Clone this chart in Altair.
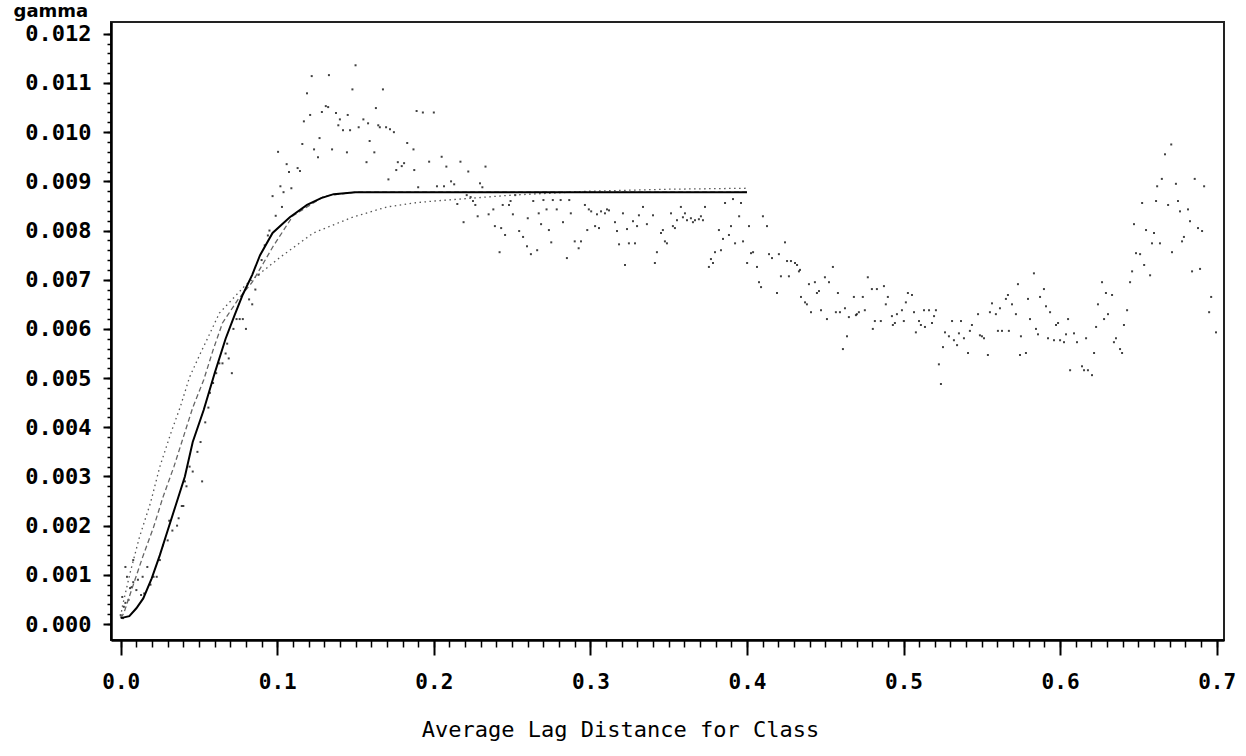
import altair as alt
import pandas as pd

near_origin = [
    (0.000, 0.00018), (0.001, 0.00055), (0.0015, 0.00012), (0.002, 0.00035), (0.003, 0.00116),
    (0.003, 0.00043), (0.004, 0.00096), (0.005, 0.00049), (0.006, 0.00073), (0.007, 0.00075),
    (0.008, 0.0013), (0.008, 0.00085), (0.010, 0.00069), (0.011, 0.0009), (0.013, 0.00059),
    (0.014, 0.00096), (0.015, 0.00062), (0.017, 0.00116), (0.019, 0.0008), (0.021, 0.00096),
    (0.023, 0.00096), (0.025, 0.0013), (0.027, 0.0016), (0.030, 0.0017), (0.031, 0.0021),
    (0.033, 0.0019), (0.036, 0.0020), (0.037, 0.00215), (0.039, 0.0024), (0.040, 0.0024),
    (0.041, 0.0029), (0.042, 0.0028), (0.044, 0.0032), (0.046, 0.0031), (0.049, 0.0035),
    (0.051, 0.0037), (0.052, 0.0029), (0.054, 0.0041), (0.056, 0.0044), (0.057, 0.0047),
    (0.059, 0.0049), (0.061, 0.0051), (0.063, 0.0053), (0.065, 0.0053), (0.067, 0.0055),
    (0.068, 0.0057), (0.069, 0.0054), (0.071, 0.0051), (0.072, 0.0060), (0.074, 0.0062),
    (0.076, 0.0062), (0.078, 0.0062), (0.080, 0.0060), (0.082, 0.0066), (0.084, 0.0065),
    (0.086, 0.0068), (0.088, 0.0071), (0.090, 0.0074), (0.092, 0.0077), (0.094, 0.0079),
    (0.095, 0.0080), (0.097, 0.0087), (0.099, 0.0083),
]
hump = [
    (0.1005, 0.0096), (0.102, 0.0089), (0.103, 0.00848), (0.104, 0.00878), (0.106, 0.00935),
    (0.1075, 0.00919), (0.109, 0.00886), (0.113, 0.00927), (0.1145, 0.00921), (0.116, 0.00976),
    (0.117, 0.01022), (0.119, 0.01079), (0.121, 0.01035), (0.122, 0.01114), (0.1235, 0.00965),
    (0.126, 0.00949), (0.127, 0.00988), (0.1285, 0.01041), (0.131, 0.01053), (0.1325, 0.01051),
    (0.133, 0.01116), (0.135, 0.00965), (0.1375, 0.01039), (0.139, 0.01014), (0.140, 0.01026),
    (0.142, 0.01004), (0.1445, 0.00959), (0.145, 0.01035), (0.1465, 0.01004), (0.148, 0.01087),
    (0.150, 0.01136), (0.152, 0.0101), (0.155, 0.01026), (0.157, 0.00939), (0.158, 0.01018),
    (0.159, 0.00982), (0.162, 0.00959), (0.163, 0.01049), (0.1645, 0.01014), (0.1655, 0.0101),
    (0.1675, 0.01087), (0.1695, 0.0101), (0.171, 0.00904), (0.172, 0.01006), (0.1745, 0.0100),
    (0.176, 0.00923), (0.177, 0.00939), (0.1795, 0.00931), (0.181, 0.00937), (0.183, 0.00978),
    (0.187, 0.00965), (0.1875, 0.00923), (0.189, 0.01043), (0.190, 0.00888), (0.193, 0.0104),
    (0.197, 0.0094), (0.200, 0.0104), (0.202, 0.0089), (0.205, 0.0095), (0.2065, 0.0089),
    (0.208, 0.0093), (0.211, 0.0090), (0.213, 0.00894), (0.215, 0.00854), (0.217, 0.0094),
    (0.219, 0.00817), (0.221, 0.00872), (0.222, 0.0092), (0.2235, 0.00868), (0.225, 0.0086),
    (0.2265, 0.00852), (0.228, 0.00829), (0.2295, 0.00896), (0.231, 0.00888), (0.233, 0.0093),
]
plateau = [
    (0.235, 0.00833), (0.238, 0.00843), (0.239, 0.00809), (0.242, 0.00756), (0.243, 0.00805),
    (0.244, 0.00852), (0.2455, 0.00791), (0.248, 0.00852), (0.249, 0.0086), (0.2505, 0.00833),
    (0.252, 0.00872), (0.2545, 0.00799), (0.257, 0.00787), (0.2595, 0.00768), (0.260, 0.00825),
    (0.262, 0.00752), (0.2635, 0.0086), (0.266, 0.0076), (0.267, 0.00835), (0.2685, 0.00813),
    (0.270, 0.00862), (0.272, 0.00843), (0.2735, 0.00801), (0.275, 0.00776), (0.276, 0.00862),
    (0.2785, 0.00843), (0.281, 0.00862), (0.2825, 0.00817), (0.285, 0.00744), (0.2865, 0.00862),
    (0.2875, 0.00835), (0.290, 0.00778), (0.2925, 0.00764), (0.294, 0.00778), (0.2965, 0.00852),
    (0.298, 0.00801), (0.299, 0.00843), (0.3005, 0.00839), (0.303, 0.00809), (0.3042, 0.00833),
    (0.3055, 0.00805), (0.3068, 0.00839), (0.3093, 0.00835), (0.3106, 0.00843), (0.3119, 0.00841),
    (0.3157, 0.00817), (0.317, 0.00799), (0.3183, 0.00772), (0.3208, 0.00835), (0.3221, 0.0073),
    (0.3234, 0.00803), (0.3246, 0.00774), (0.3272, 0.00819), (0.3285, 0.00774), (0.3298, 0.00809),
    (0.331, 0.00831), (0.3336, 0.00848), (0.3361, 0.00813), (0.340, 0.00831), (0.3412, 0.00734),
    (0.3425, 0.00756), (0.3451, 0.00795), (0.3463, 0.00801), (0.3476, 0.00778), (0.3489, 0.00774),
    (0.3515, 0.00835), (0.3527, 0.00809), (0.354, 0.00805), (0.3553, 0.00821), (0.3578, 0.00848),
    (0.3591, 0.00827), (0.3604, 0.00835), (0.3617, 0.00821), (0.3642, 0.00825), (0.3655, 0.00817),
    (0.3668, 0.00821), (0.3693, 0.00823), (0.3706, 0.00829), (0.3719, 0.00821), (0.3732, 0.00848),
    (0.3757, 0.00726), (0.377, 0.00742), (0.3783, 0.00734), (0.3796, 0.00756), (0.3821, 0.00801),
    (0.3834, 0.0076), (0.3847, 0.00783), (0.386, 0.00856), (0.3885, 0.00791), (0.3898, 0.00809),
    (0.3911, 0.00864), (0.3924, 0.00774), (0.395, 0.00829), (0.3962, 0.00856), (0.3975, 0.00778),
    (0.4001, 0.00734), (0.4013, 0.00809), (0.4026, 0.00754), (0.4039, 0.00756), (0.4064, 0.00726),
    (0.4077, 0.00695), (0.409, 0.00685), (0.4102, 0.00829), (0.4128, 0.00809), (0.4141, 0.00752),
    (0.416, 0.00744), (0.4192, 0.00673), (0.4204, 0.00752), (0.4217, 0.00707), (0.4243, 0.00776),
    (0.4256, 0.00738), (0.4268, 0.00707), (0.4281, 0.00738), (0.4307, 0.00734), (0.432, 0.0073),
    (0.4332, 0.00717),
]
far_lags = [
    (0.4339, 0.0072), (0.4345, 0.00665), (0.4371, 0.00654), (0.4383, 0.0065), (0.4396, 0.00691),
    (0.4409, 0.00634), (0.4434, 0.00695), (0.4447, 0.00673), (0.446, 0.00677), (0.4473, 0.00638),
    (0.4498, 0.00705), (0.4511, 0.0062), (0.4524, 0.00695), (0.4549, 0.00726), (0.4568, 0.00634),
    (0.4581, 0.00673), (0.4594, 0.00634), (0.4613, 0.00559), (0.4626, 0.00642), (0.4639, 0.00585),
    (0.4651, 0.00624), (0.4683, 0.00665), (0.4696, 0.00628), (0.4702, 0.0063), (0.4715, 0.00634),
    (0.474, 0.00665), (0.4753, 0.00638), (0.4772, 0.00705), (0.4798, 0.00681), (0.4804, 0.0060),
    (0.4817, 0.00616), (0.483, 0.00681), (0.4855, 0.00616), (0.4875, 0.00687), (0.4887, 0.0065),
    (0.490, 0.00665), (0.4926, 0.00626), (0.4932, 0.00608), (0.4945, 0.00612), (0.4958, 0.0063),
    (0.499, 0.00638), (0.5002, 0.00616), (0.5015, 0.00654), (0.5028, 0.00673), (0.5054, 0.00669),
    (0.5067, 0.00634), (0.5079, 0.00593), (0.5099, 0.00616), (0.5111, 0.00608), (0.5131, 0.00638),
    (0.5137, 0.00604), (0.5163, 0.00638), (0.5182, 0.00612), (0.5195, 0.00626), (0.5207, 0.00638),
    (0.5226, 0.00528), (0.5239, 0.00488), (0.5252, 0.00563), (0.5265, 0.00593), (0.529, 0.00585),
    (0.531, 0.00616), (0.5322, 0.00577), (0.5342, 0.00567), (0.5354, 0.00591), (0.5367, 0.00616),
    (0.5386, 0.00581), (0.5412, 0.00551), (0.5424, 0.00596), (0.5437, 0.00608), (0.5476, 0.0063),
    (0.5488, 0.00587), (0.5501, 0.00585), (0.5514, 0.00581), (0.5539, 0.00547), (0.5552, 0.00634),
    (0.5565, 0.00652), (0.559, 0.0063), (0.5603, 0.00596), (0.5616, 0.00642), (0.5629, 0.00596),
    (0.5654, 0.00661), (0.5667, 0.00669), (0.5673, 0.00596), (0.5693, 0.0065), (0.5718, 0.0063),
    (0.5731, 0.00691), (0.5744, 0.00547), (0.575, 0.00585), (0.5782, 0.00551), (0.5795, 0.00661),
    (0.5808, 0.0062), (0.5833, 0.00713), (0.5846, 0.0060), (0.5859, 0.00589), (0.5872, 0.00665),
    (0.5897, 0.00681), (0.591, 0.00646), (0.5923, 0.00581), (0.5936, 0.00634), (0.5961, 0.00577),
    (0.5974, 0.00608), (0.5987, 0.00612), (0.600, 0.00577), (0.6025, 0.00573), (0.6038, 0.00589),
    (0.6051, 0.0062), (0.6064, 0.00516), (0.6089, 0.00591), (0.6108, 0.00573), (0.614, 0.00524),
    (0.6153, 0.00516), (0.6166, 0.00581), (0.6178, 0.00516), (0.6204, 0.00506), (0.6217, 0.00551),
    (0.623, 0.00604), (0.6242, 0.0065), (0.6268, 0.00695), (0.6281, 0.0062), (0.6293, 0.00673),
    (0.6306, 0.0063), (0.6332, 0.00669), (0.6344, 0.00573), (0.6357, 0.00581), (0.6383, 0.00559),
    (0.6396, 0.00551), (0.6408, 0.00608), (0.6428, 0.00638), (0.6447, 0.00695), (0.646, 0.00717),
    (0.6472, 0.00813), (0.6485, 0.00754), (0.6511, 0.00752), (0.6524, 0.00856), (0.6537, 0.0073),
    (0.6549, 0.00801), (0.6575, 0.00709), (0.6587, 0.00774), (0.660, 0.00795), (0.6613, 0.0086),
    (0.662, 0.0089), (0.6638, 0.00774), (0.665, 0.00905), (0.667, 0.00955), (0.669, 0.00852),
    (0.671, 0.00975), (0.6715, 0.00756), (0.674, 0.00895), (0.6753, 0.0086), (0.6766, 0.00839),
    (0.6779, 0.00778), (0.6791, 0.00787), (0.6817, 0.00843), (0.683, 0.00819), (0.6843, 0.00717),
    (0.686, 0.00905), (0.6881, 0.00805), (0.6894, 0.00722), (0.6907, 0.00799), (0.692, 0.0089),
    (0.6952, 0.00634), (0.6965, 0.00665), (0.6996, 0.00593),
]

# ---------------- fitted model curves (lag, gamma) ----------------
solid_model = [
    (0.000, 0.00012), (0.0055, 0.00016), (0.010, 0.00032), (0.0144, 0.00052), (0.0198, 0.00093),
    (0.025, 0.0014), (0.030, 0.0019), (0.035, 0.0024), (0.041, 0.0030), (0.046, 0.0037),
    (0.053, 0.00435), (0.060, 0.0051), (0.067, 0.0058), (0.073, 0.0063), (0.078, 0.0067),
    (0.084, 0.0071), (0.089, 0.0075), (0.097, 0.00795), (0.108, 0.00827), (0.119, 0.00852),
    (0.128, 0.00866), (0.136, 0.00874), (0.150, 0.00878), (0.400, 0.00878),
]
dashed_model = [
    (0.000, 0.00012), (0.002, 0.00022), (0.007, 0.0007), (0.014, 0.00136), (0.021, 0.00197),
    (0.027, 0.00258), (0.034, 0.0032), (0.040, 0.0038), (0.046, 0.0044), (0.053, 0.00496),
    (0.059, 0.00557), (0.065, 0.00612), (0.075, 0.0066), (0.084, 0.00695), (0.091, 0.00733),
    (0.097, 0.00766), (0.110, 0.0083), (0.130, 0.0087), (0.150, 0.00878), (0.400, 0.00878),
]
dotted_model = [
    (0.000, 0.00015), (0.001, 0.00035), (0.006, 0.00104), (0.012, 0.00177), (0.019, 0.00246),
    (0.025, 0.0032), (0.032, 0.00388), (0.038, 0.00441), (0.044, 0.00502), (0.051, 0.00551),
    (0.057, 0.00591), (0.063, 0.00632), (0.080, 0.0069), (0.102, 0.00746), (0.123, 0.00795),
    (0.148, 0.00827), (0.170, 0.00848), (0.187, 0.00856), (0.200, 0.0086), (0.250, 0.00872),
    (0.300, 0.0088), (0.350, 0.00884), (0.400, 0.00886),
]

x_major_ticks = [0.0, 0.1, 0.2, 0.3, 0.4, 0.5, 0.6, 0.7]
y_major_ticks = [0.0, 0.001, 0.002, 0.003, 0.004, 0.005, 0.006, 0.007, 0.008, 0.009, 0.010, 0.011, 0.012]
x_minor_ticks = [round(i * 0.01, 2) for i in range(71)]
y_minor_ticks = [round(i * 0.0002, 4) for i in range(61)]

FONT = "DejaVu Sans Mono"

pts = pd.DataFrame(near_origin + hump + plateau + far_lags, columns=["lag", "gamma"])
sol = pd.DataFrame(solid_model, columns=["lag", "gamma"])
dsh = pd.DataFrame(dashed_model, columns=["lag", "gamma"])
dot = pd.DataFrame(dotted_model, columns=["lag", "gamma"])

xs = alt.Scale(domain=[-0.0062, 0.7047], nice=False, zero=False)
ys = alt.Scale(domain=[-0.000325, 0.01224], nice=False, zero=False)

x_major = alt.Axis(
    orient="bottom", values=x_major_ticks, format=".1f", grid=False,
    tickSize=15, tickWidth=2, tickColor="black", domainColor="black", domainWidth=2.5,
    labelFont=FONT, labelFontWeight="bold", labelFontSize=21, labelColor="black", labelPadding=16,
    title="Average Lag Distance for Class", titleFont=FONT, titleFontSize=22, titleFontWeight="normal",
    titleColor="black", titleX=509, titleY=96, titleAlign="center", titleBaseline="alphabetic",
)
y_major = alt.Axis(
    orient="left", values=y_major_ticks, format=".3f", grid=False,
    tickSize=8, tickWidth=2, tickColor="black", domainColor="black", domainWidth=2.5,
    labelFont=FONT, labelFontWeight="bold", labelFontSize=22, labelColor="black", labelPadding=12,
    title="gamma", titleFont="DejaVu Sans", titleFontWeight="bold", titleFontSize=18, titleColor="black",
    titleAngle=0, titleX=-98, titleY=-20, titleAlign="left", titleBaseline="top",
)
x_minor = alt.Axis(orient="bottom", values=x_minor_ticks, labels=False, domain=False, grid=False,
                   tickSize=7, tickWidth=1.5, tickColor="black", title=None)
y_minor = alt.Axis(orient="left", values=y_minor_ticks, labels=False, domain=False, grid=False,
                   tickSize=4, tickWidth=1.5, tickColor="black", title=None)

points = alt.Chart(pts).mark_square(size=4, color="#111111", opacity=0.8).encode(
    x=alt.X("lag:Q", scale=xs, axis=x_major),
    y=alt.Y("gamma:Q", scale=ys, axis=y_major),
)
dotted = alt.Chart(dot).mark_line(color="#555555", strokeWidth=1.3, strokeDash=[1.5, 3.5]).encode(
    x=alt.X("lag:Q", scale=xs, axis=x_minor),
    y=alt.Y("gamma:Q", scale=ys, axis=y_minor),
)
dashed = alt.Chart(dsh).mark_line(color="#666666", strokeWidth=1.3, strokeDash=[5, 3]).encode(
    x=alt.X("lag:Q", scale=xs, axis=None),
    y=alt.Y("gamma:Q", scale=ys, axis=None),
)
solid = alt.Chart(sol).mark_line(color="black", strokeWidth=2).encode(
    x=alt.X("lag:Q", scale=xs, axis=None),
    y=alt.Y("gamma:Q", scale=ys, axis=None),
)

chart = (
    alt.layer(points, dotted, dashed, solid)
    .resolve_axis(x="independent", y="independent")
    .properties(
        width=1113, height=618,
        autosize=alt.AutoSizeParams(type="none"),
        padding={"left": 111, "top": 22, "right": 22, "bottom": 116},
        background="white",
    )
    .configure_view(stroke="#222222", strokeWidth=2)
)

chart.save("out.html", embed_options={"renderer": "svg", "actions": False})
